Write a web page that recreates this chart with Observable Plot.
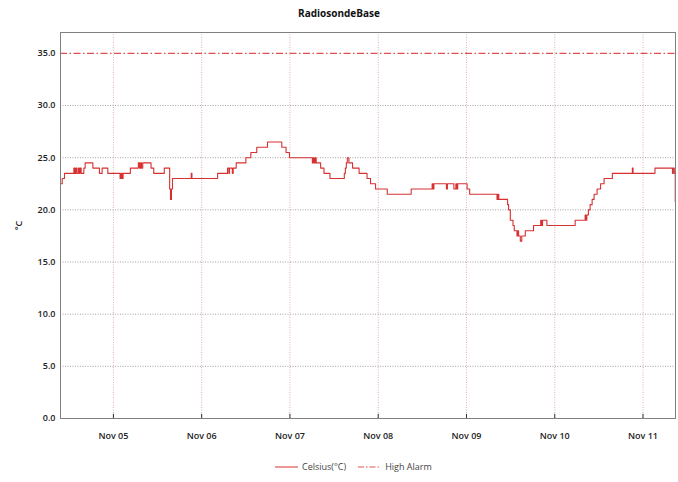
<!DOCTYPE html>
<html><head><meta charset="utf-8">
<script src="https://cdn.jsdelivr.net/npm/d3@7"></script>
<script src="https://cdn.jsdelivr.net/npm/@observablehq/plot@0.6"></script>
<style>
body{margin:0;background:#fff;font-family:"Open Sans",sans-serif;}
#wrap{position:relative;width:678px;height:482px;overflow:hidden;}
#title{position:absolute;top:6px;left:0;width:678px;text-align:center;font-weight:700;font-size:10px;color:#111;}
#chart{position:absolute;top:28px;left:0;}
#legend{position:absolute;top:460px;left:275px;font-size:9px;color:#444;display:flex;align-items:center;white-space:nowrap;}
#legend svg{margin-right:4px;}
</style></head><body>
<div id="wrap"><div id="title">RadiosondeBase</div><div id="chart"></div><div id="legend"></div></div>
<script>
const chartTitle = "RadiosondeBase";
const seriesNames = ["Celsius(°C)", "High Alarm"];
const times = [
"2021-11-04 09:37","2021-11-04 10:05","2021-11-04 10:42","2021-11-04 13:15","2021-11-04 13:28","2021-11-04 13:44",
"2021-11-04 14:01","2021-11-04 14:25","2021-11-04 14:41","2021-11-04 14:58","2021-11-04 15:14","2021-11-04 15:58",
"2021-11-04 16:19","2021-11-04 18:25","2021-11-04 20:12","2021-11-04 20:56","2021-11-04 22:29","2021-11-05 01:49",
"2021-11-05 02:05","2021-11-05 02:22","2021-11-05 02:38","2021-11-05 04:37","2021-11-05 06:47","2021-11-05 07:06",
"2021-11-05 07:23","2021-11-05 07:39","2021-11-05 07:59","2021-11-05 10:14","2021-11-05 10:58","2021-11-05 13:50",
"2021-11-05 15:18","2021-11-05 15:31","2021-11-05 15:47","2021-11-05 16:04","2021-11-05 21:10","2021-11-05 21:21",
"2021-11-06 04:20","2021-11-06 07:02","2021-11-06 07:24","2021-11-06 07:35","2021-11-06 08:20","2021-11-06 08:34",
"2021-11-06 09:23","2021-11-06 12:01","2021-11-06 13:22","2021-11-06 14:59","2021-11-06 17:54","2021-11-06 21:47",
"2021-11-06 22:57","2021-11-06 23:52","2021-11-07 06:06","2021-11-07 06:19","2021-11-07 06:36","2021-11-07 06:52",
"2021-11-07 07:08","2021-11-07 08:21","2021-11-07 09:15","2021-11-07 10:53","2021-11-07 14:47","2021-11-07 15:04",
"2021-11-07 15:20","2021-11-07 15:36","2021-11-07 16:02","2021-11-07 17:02","2021-11-07 18:48","2021-11-07 20:58",
"2021-11-07 21:55","2021-11-07 23:17","2021-11-08 02:28","2021-11-08 08:58","2021-11-08 14:40","2021-11-08 14:56",
"2021-11-08 15:09","2021-11-08 18:33","2021-11-08 18:49","2021-11-08 20:35","2021-11-08 21:07","2021-11-08 21:24",
"2021-11-08 21:37","2021-11-09 00:10","2021-11-09 00:52","2021-11-09 08:18","2021-11-09 08:35","2021-11-09 08:47",
"2021-11-09 11:11","2021-11-09 11:27","2021-11-09 11:55","2021-11-09 12:39","2021-11-09 13:00","2021-11-09 13:44",
"2021-11-09 13:57","2021-11-09 14:10","2021-11-09 14:38","2021-11-09 15:02","2021-11-09 15:59","2021-11-09 18:14",
"2021-11-09 20:11","2021-11-09 20:25","2021-11-09 20:41","2021-11-09 21:52","2021-11-10 05:33","2021-11-10 08:16",
"2021-11-10 08:32","2021-11-10 08:43","2021-11-10 09:09","2021-11-10 09:37","2021-11-10 10:10","2021-11-10 10:42",
"2021-11-10 11:31","2021-11-10 12:28","2021-11-10 13:25","2021-11-10 15:40","2021-11-10 21:06","2021-11-10 21:17",
"2021-11-11 03:15","2021-11-11 08:00","2021-11-11 08:11","2021-11-11 08:30","2021-11-11 08:46"
];
const celsius = [
22.5,23.0,23.5,24.0,23.5,24.0,
23.5,24.0,23.5,24.0,23.5,24.0,
24.5,24.0,23.5,24.0,23.5,23.0,
23.5,23.0,23.5,24.0,24.5,24.0,
24.5,24.0,24.5,24.0,23.5,24.0,
22.0,21.0,22.0,23.0,23.5,23.0,
23.5,24.0,23.5,24.0,23.5,24.0,
24.5,25.0,25.5,26.0,26.5,26.0,
25.5,25.0,24.5,25.0,24.5,25.0,
24.5,24.0,23.5,23.0,23.5,24.0,
24.5,25.0,24.5,24.0,23.5,23.0,
22.5,22.0,21.5,22.0,22.5,22.0,
22.5,22.0,22.5,22.0,22.5,22.0,
22.5,22.0,21.5,21.0,21.5,21.0,
20.5,20.0,19.0,18.5,18.0,17.5,
18.0,17.5,17.0,17.5,18.0,18.5,
19.0,18.5,19.0,18.5,19.0,19.5,
19.0,19.5,20.0,20.5,21.0,21.5,
22.0,22.5,23.0,23.5,24.0,23.5,
24.0,23.5,24.0,23.5,20.8
];
const highAlarm = 35;
const yTicks = [0, 5, 10, 15, 20, 25, 30, 35];
const yDomain = [0, 37];
const xTickDays = ["2021-11-05","2021-11-06","2021-11-07","2021-11-08","2021-11-09","2021-11-10","2021-11-11"];
const xDomain = ["2021-11-04 09:37", "2021-11-11 08:50"];

const parseT = d3.timeParse("%Y-%m-%d %H:%M");
const parseD = d3.timeParse("%Y-%m-%d");
const rows = times.map((t, i) => ({t: parseT(t), v: celsius[i]}));
const days = xTickDays.map(parseD);

const plot = Plot.plot({
  width: 678,
  height: 420,
  marginTop: 4,
  marginBottom: 30,
  marginLeft: 60,
  marginRight: 3,
  style: {fontFamily: "Open Sans, sans-serif", fontSize: "9px", color: "#222", background: "#fff"},
  x: {type: "time", domain: xDomain.map(parseT)},
  y: {domain: yDomain},
  marks: [
    Plot.ruleX(days, {stroke: "#d9aaaa", strokeDasharray: "1,1.5", strokeWidth: 0.9}),
    Plot.ruleY(yTicks.filter(d => d > 0 && d !== highAlarm), {stroke: "#9a9a9a", strokeDasharray: "1,1.5", strokeWidth: 0.9}),
    Plot.ruleY([highAlarm], {stroke: "#e05050", strokeDasharray: "7,2.5,1.5,2.5", strokeWidth: 1.2}),
    Plot.line(rows, {x: "t", y: "v", stroke: "#d63030", strokeWidth: 1.1, curve: "step-after"}),
    Plot.ruleX(days, {y1: 0, y2: 0.4, stroke: "#333", strokeWidth: 1}),
    Plot.frame({stroke: "#808080"}),
    Plot.axisX({ticks: days, tickFormat: d3.timeFormat("%b %d"), tickSize: 0, tickPadding: 14, label: null, fontWeight: 600}),
    Plot.axisY({ticks: yTicks, tickFormat: d3.format(".1f"), tickSize: 0, tickPadding: 5, fontWeight: 600,
      label: "°C", labelAnchor: "center", labelOffset: 45, labelArrow: "none"})
  ]
});
document.getElementById("chart").appendChild(plot);
document.getElementById("title").textContent = chartTitle;

const legend = document.getElementById("legend");
const swatches = [
  {dash: null, color: "#d63030"},
  {dash: "6,2,1.5,2", color: "#e05050"}
];
seriesNames.forEach((name, i) => {
  const s = swatches[i];
  const item = document.createElement("span");
  item.style.display = "inline-flex";
  item.style.alignItems = "center";
  item.style.marginRight = i === 0 ? "12px" : "0";
  item.innerHTML = `<svg width="23" height="6"><line x1="0" x2="23" y1="3" y2="3" stroke="${s.color}" stroke-width="1" ${s.dash ? `stroke-dasharray="${s.dash}"` : ""}/></svg><span>${name}</span>`;
  legend.appendChild(item);
});
</script>
</body></html>
